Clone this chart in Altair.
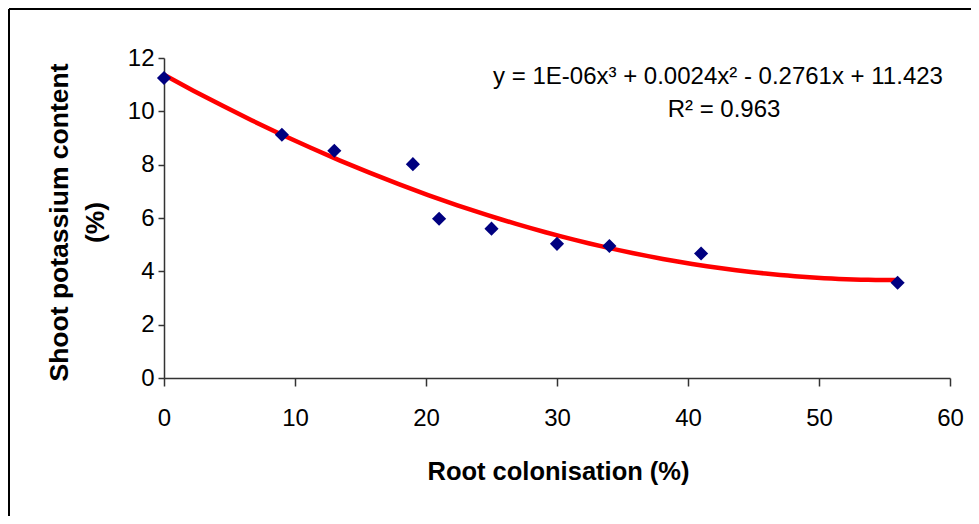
import altair as alt
import pandas as pd

# Data
colonisation = [0, 9, 13, 19, 21, 25, 30, 34, 41, 56]
potassium = [11.25, 9.12, 8.52, 8.02, 5.97, 5.60, 5.03, 4.95, 4.67, 3.57]
x_ticks = [0, 10, 20, 30, 40, 50, 60]
y_ticks = [0, 2, 4, 6, 8, 10, 12]
eq_lines = ["y = 1E-06x³ + 0.0024x² - 0.2761x + 11.423", "R² = 0.963"]
x_title = "Root colonisation (%)"
y_title = ["Shoot potassium content", "(%)"]

df = pd.DataFrame({"x": colonisation, "y": potassium})

FONT = "Liberation Sans"

x_enc = alt.X(
    "x:Q",
    scale=alt.Scale(domain=[0, 60], nice=False, zero=False),
    axis=alt.Axis(
        values=x_ticks, title=x_title, tickSize=8, labelPadding=39,
        labelBaseline="alphabetic", labelFlush=False, labelOverlap=False,
        titleX=394, titleY=101, titleBaseline="alphabetic", titleAlign="center",
        titleFontSize=25.5,
    ),
)
y_enc = alt.Y(
    "y:Q",
    scale=alt.Scale(domain=[0, 12], nice=False, zero=False),
    axis=alt.Axis(
        values=y_ticks, title=y_title, tickSize=6, labelPadding=4,
        labelFlush=False, labelOverlap=False,
        titleX=-97, titleY=164, titleAngle=-90, titleBaseline="alphabetic",
        titleAlign="center", titleLineHeight=36, titleFontSize=26.5,
    ),
)

trend = (
    alt.Chart(df)
    .transform_regression("x", "y", method="poly", order=3, extent=[0, 56])
    .mark_line(color="#FF0000", strokeWidth=4.5)
    .encode(x=x_enc, y=y_enc)
)

points = (
    alt.Chart(df)
    .mark_point(shape="diamond", filled=True, color="#000080", size=200, opacity=1)
    .encode(x="x:Q", y="y:Q")
)

eq1 = (
    alt.Chart(pd.DataFrame({"t": [eq_lines[0]]}))
    .mark_text(font=FONT, fontSize=24, align="center", baseline="alphabetic", color="black")
    .encode(x=alt.value(554), y=alt.value(26), text="t:N")
)
eq2 = (
    alt.Chart(pd.DataFrame({"t": [eq_lines[1]]}))
    .mark_text(font=FONT, fontSize=24, align="center", baseline="alphabetic", color="black")
    .encode(x=alt.value(560), y=alt.value(59), text="t:N")
)

frame_df = pd.DataFrame({"a": [0]})
frame_left = (
    alt.Chart(frame_df)
    .mark_rule(color="black", strokeWidth=2)
    .encode(x=alt.value(-155), y=alt.value(-49), y2=alt.value(458))
)
frame_top = (
    alt.Chart(frame_df)
    .mark_rule(color="black", strokeWidth=2)
    .encode(x=alt.value(-155), x2=alt.value(807), y=alt.value(-49))
)

chart = (
    alt.layer(frame_left, frame_top, trend, points, eq1, eq2)
    .properties(
        width=786, height=320,
        autosize=alt.AutoSizeParams(type="none"),
        padding={"left": 156, "top": 50, "right": 21, "bottom": 138},
        background="white",
    )
    .configure_view(stroke=None)
    .configure_axis(
        grid=False,
        domainColor="#333333", domainWidth=1.5,
        tickColor="#333333", tickWidth=1.5,
        labelFont=FONT, labelFontSize=24, labelColor="black",
        titleFont=FONT, titleFontSize=25, titleFontWeight="bold", titleColor="black",
    )
)

chart.save("out.html", embed_options={"renderer": "svg", "actions": False})
